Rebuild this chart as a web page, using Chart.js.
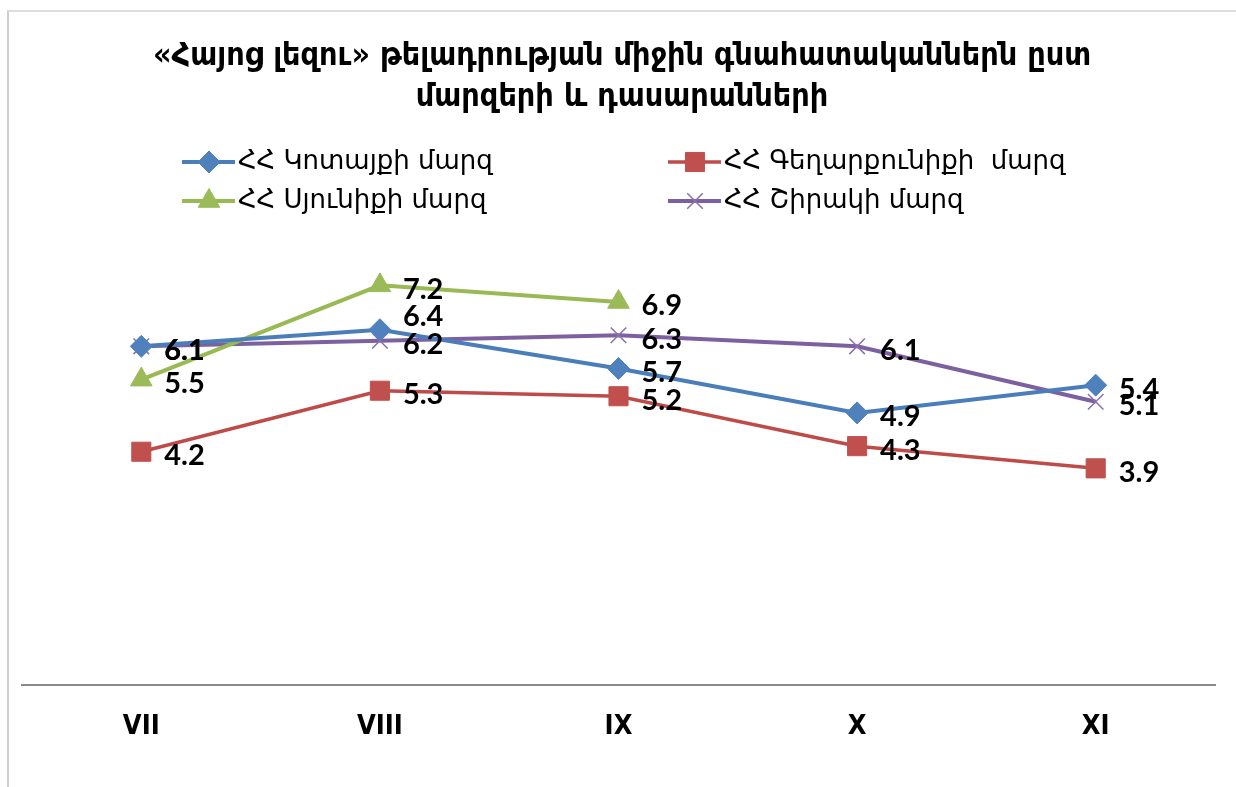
<!DOCTYPE html>
<html>
<head>
<meta charset="utf-8">
<script src="https://cdn.jsdelivr.net/npm/chart.js@4/dist/chart.umd.min.js"></script>
<style>
  html, body { margin: 0; padding: 0; background: #fff; overflow: hidden; }
  #frame {
    position: absolute; left: 7px; top: 10px; width: 1400px; height: 1000px;
    border-left: 2px solid #cfcfcf; border-top: 2px solid #dcdcdc;
  }
  #wrap { position: absolute; left: 0; top: 0; width: 1236px; height: 787px; }
</style>
</head>
<body>
<div id="frame"></div>
<div id="wrap"><canvas id="chart" width="1236" height="787"></canvas></div>
<script>
// chart data
const grades = ['VII', 'VIII', 'IX', 'X', 'XI'];
const kotayk = [6.1, 6.4, 5.7, 4.9, 5.4];
const gegharkunik = [4.2, 5.3, 5.2, 4.3, 3.9];
const syunik = [5.5, 7.2, 6.9, null, null];
const shirak = [6.1, 6.2, 6.3, 6.1, 5.1];

const titleLines = ['«Հայոց լեզու» թելադրության միջին գնահատականներն ըստ', 'մարզերի և դասարանների'];
const seriesNames = ['ՀՀ Կոտայքի մարզ', 'ՀՀ Գեղարքունիքի  մարզ', 'ՀՀ Սյունիքի մարզ', 'ՀՀ Շիրակի մարզ'];

const condFont = '"DejaVu Sans Condensed", "DejaVu Sans", sans-serif';
const armFont = '"DejaVu Sans", sans-serif';

// draws title, two-column legend and data labels
const decorations = {
  id: 'decorations',
  afterDraw(chart) {
    const ctx = chart.ctx;
    ctx.save();

    // title
    ctx.fillStyle = '#000';
    ctx.font = 'bold 32px ' + condFont;
    ctx.textAlign = 'center';
    ctx.textBaseline = 'middle';
    ctx.fillText(titleLines[0], 622, 57);
    ctx.fillText(titleLines[1], 622, 98);

    // legend
    const slots = [[182, 162], [668, 162], [182, 201], [668, 201]];
    chart.data.datasets.forEach((ds, i) => {
      const [x, y] = slots[i];
      ctx.strokeStyle = ds.borderColor;
      ctx.lineWidth = ds.borderWidth;
      ctx.beginPath();
      ctx.moveTo(x, y);
      ctx.lineTo(x + 53, y);
      ctx.stroke();
      ctx.fillStyle = ds.pointBackgroundColor;
      ctx.strokeStyle = ds.pointBorderColor;
      ctx.lineWidth = ds.pointBorderWidth;
      Chart.helpers.drawPoint(ctx, {
        pointStyle: ds.pointStyle,
        radius: ds.pointRadius,
        borderWidth: ds.pointBorderWidth
      }, x + 27, y);
      ctx.fillStyle = '#000';
      ctx.font = '26px ' + armFont;
      ctx.textAlign = 'left';
      ctx.textBaseline = 'middle';
      ctx.fillText(ds.label, x + 56, y);
    });

    // data labels
    ctx.font = 'bold 29px Lato, "Liberation Sans", sans-serif';
    ctx.fillStyle = '#000';
    ctx.textAlign = 'left';
    ctx.textBaseline = 'middle';
    chart.data.datasets.forEach((ds, di) => {
      const meta = chart.getDatasetMeta(di);
      meta.data.forEach((pt, i) => {
        const v = ds.data[i];
        if (v === null) return;
        let dy = 4;
        if (di === 0 && i === 1) dy = -13;
        ctx.fillText(v.toFixed(1), pt.x + 23, pt.y + dy);
      });
    });

    ctx.restore();
  }
};

const ctx = document.getElementById('chart').getContext('2d');
new Chart(ctx, {
  type: 'line',
  data: {
    labels: grades,
    datasets: [
      {
        label: seriesNames[0],
        data: kotayk,
        borderColor: '#4A7EBB',
        backgroundColor: '#4F81BD',
        borderWidth: 4,
        pointStyle: 'rectRot',
        pointRadius: 11,
        pointBorderWidth: 1,
        pointBorderColor: '#4F81BD',
        pointBackgroundColor: '#4F81BD'
      },
      {
        label: seriesNames[1],
        data: gegharkunik,
        borderColor: '#BE4B48',
        backgroundColor: '#C0504D',
        borderWidth: 3.5,
        pointStyle: 'rect',
        pointRadius: 13.5,
        pointBorderWidth: 1,
        pointBorderColor: '#C0504D',
        pointBackgroundColor: '#C0504D'
      },
      {
        label: seriesNames[2],
        data: syunik,
        borderColor: '#98B954',
        backgroundColor: '#9BBB59',
        borderWidth: 4,
        pointStyle: 'triangle',
        pointRadius: 12.5,
        pointBorderWidth: 1,
        pointBorderColor: '#9BBB59',
        pointBackgroundColor: '#9BBB59'
      },
      {
        label: seriesNames[3],
        data: shirak,
        borderColor: '#7D60A0',
        backgroundColor: '#8064A2',
        borderWidth: 4,
        pointStyle: 'crossRot',
        pointRadius: 11,
        pointBorderWidth: 1.5,
        pointBorderColor: '#8A6FAE',
        pointBackgroundColor: '#8A6FAE'
      }
    ]
  },
  options: {
    responsive: false,
    animation: false,
    spanGaps: false,
    layout: {
      padding: { left: 22, right: 21, top: 241, bottom: 18 }
    },
    plugins: {
      legend: { display: false },
      title: { display: false },
      tooltip: { enabled: false }
    },
    scales: {
      x: {
        offset: true,
        grid: { display: false, drawTicks: false, tickLength: 0 },
        border: { display: true, color: '#8a8a8a', width: 2 },
        ticks: {
          color: '#000',
          padding: 26,
          font: { family: condFont, size: 27, weight: 'bold' }
        }
      },
      y: {
        display: false,
        min: 0,
        max: 8
      }
    }
  },
  plugins: [decorations]
});
</script>
</body>
</html>
